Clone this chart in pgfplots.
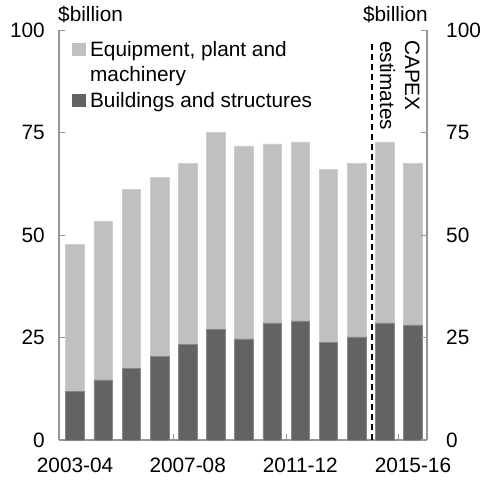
\documentclass[border=0pt]{standalone}
\usepackage{fontspec}
\setmainfont{Liberation Sans}
\usepackage{pgfplots}
\pgfplotsset{compat=1.18}
\usepackage{pgfplotstable}

\definecolor{lightbar}{RGB}{192,192,192}
\definecolor{lightedge}{RGB}{206,206,206}
\definecolor{darkbar}{RGB}{99,99,99}
\definecolor{darkedge}{RGB}{135,135,135}
\definecolor{axisgray}{RGB}{150,150,150}

\pgfplotstableread{
x build equip
0 11.9 35.8
1 14.7 38.8
2 17.5 43.7
3 20.4 43.7
4 23.3 44.2
5 27.1 48.0
6 24.7 47.1
7 28.6 43.7
8 29.1 43.7
9 23.8 42.2
10 25.2 42.3
11 28.6 44.2
12 28.1 39.4
}\datatable

\newcommand{\bigfont}{\fontsize{20.8}{25}\selectfont}

\pgfplotsset{
  common/.style={
    scale only axis, width=368pt, height=409.5pt,
    xmin=-0.57, xmax=12.5, ymin=0, ymax=100,
    ytick={0,25,50,75,100},
    tick align=inside,
    major tick length=6pt,
    axis line style={axisgray, line width=1.2pt},
    every tick/.style={axisgray, line width=1.2pt},
    tick label style={font=\bigfont},
    /pgf/number format/assume math mode=true,
  }
}

\begin{document}
\bigfont
\begin{tikzpicture}[font=\bigfont]
\useasboundingbox (-59pt,-39pt) rectangle (422pt,440pt);
\begin{axis}[
  common,
  clip=false,
  axis x line*=bottom, axis y line*=left,
  xtick={3.5,7.5,11.5}, xticklabels={,,},
  extra x ticks={0,4,8,12},
  extra x tick labels={2003-04,2007-08,2011-12,2015-16},
  extra x tick style={major tick length=0pt},
  xticklabel style={anchor=north, inner sep=0pt, yshift=-18pt},
  yticklabel style={anchor=east, inner sep=0pt, xshift=-14pt},
  ybar stacked, bar width=0.66,
  legend image code/.code={\fill[#1, draw=none] (0pt,0pt) rectangle (14.6pt,13.5pt);},
  legend style={at={(0.034,0.9775)}, anchor=north west, draw=none, fill=none,
    inner sep=0pt, outer sep=0pt, row sep=4pt, column sep=2pt, font=\bigfont,
    cells={anchor=base west, inner sep=0pt, text height=14.5pt, text depth=4.5pt}},
  legend entries={{Equipment, plant and},machinery,Buildings and structures},
]
\addlegendimage{fill=lightbar}
\addlegendimage{empty legend}
\addlegendimage{fill=darkbar}
\addplot[fill=darkbar, draw=darkedge, line width=0.6pt] table[x=x, y=build] {\datatable};
\addplot[fill=lightbar, draw=lightedge, line width=0.6pt] table[x=x, y=equip] {\datatable};
\draw[black, line width=1.3pt, dash pattern=on 6pt off 4pt] (axis cs:10.55,0) -- (axis cs:10.55,97.6);
\node[anchor=base west, inner sep=0pt] at ([xshift=-1pt, yshift=9pt]axis description cs:0,1) {\$billion};
\node[anchor=base east, inner sep=0pt] at ([xshift=1pt, yshift=9pt]axis description cs:1,1) {\$billion};
\node[rotate=-90, anchor=base west, inner sep=0pt] at ([xshift=-22pt, yshift=-9.5pt]axis description cs:1,1) {CAPEX};
\node[rotate=-90, anchor=base west, inner sep=0pt] at ([xshift=-47pt, yshift=-10.5pt]axis description cs:1,1) {estimates};
\end{axis}
\begin{axis}[
  common,
  axis x line=none, axis y line*=right,
  yticklabel style={anchor=west, inner sep=0pt, xshift=19pt},
]
\addplot[draw=none] coordinates {(0,0)};
\end{axis}
\end{tikzpicture}
\end{document}
